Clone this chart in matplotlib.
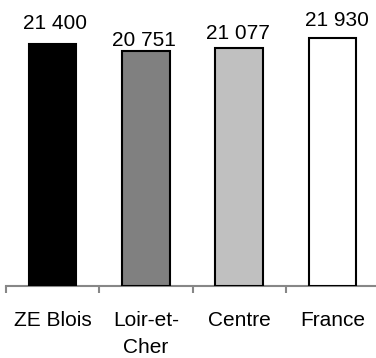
import matplotlib
matplotlib.use("Agg")
import matplotlib.pyplot as plt
from matplotlib.ticker import FixedLocator

plt.rcParams['font.family'] = ['Liberation Sans', 'DejaVu Sans']

regions = ["ZE Blois", "Loir-et-\nCher", "Centre", "France"]
values = [21400, 20751, 21077, 21930]
value_labels = ["21 400", "20 751", "21 077", "21 930"]
fills = ["#000000", "#808080", "#c0c0c0", "#ffffff"]

# label nudges (points): x, y above bar top
label_dx = [1.5, -1.5, -1, 3.5]
label_dy = [10.7, 3.9, 6.5, 8.4]

fig = plt.figure(figsize=(3.76, 3.58), dpi=100)
ax = fig.add_axes([6 / 376, 72 / 358, 373 / 376, 286 / 358])

x = list(range(len(regions)))
ax.bar(x, values, width=0.51, color=fills, edgecolor="black", linewidth=1.5, zorder=3)

for xi, v, txt, dx, dy in zip(x, values, value_labels, label_dx, label_dy):
    ax.annotate(txt, (xi, v), xytext=(dx, dy), textcoords="offset points",
                ha="center", va="baseline", fontsize=15, color="black")

ax.set_xlim(-0.5, 3.5)
ax.set_ylim(0, 25300)

for side in ["left", "right", "top"]:
    ax.spines[side].set_visible(False)
ax.spines["bottom"].set_color("#878787")
ax.spines["bottom"].set_linewidth(1.5)
ax.set_yticks([])

ax.set_xticks(x)
ax.set_xticklabels(regions, fontsize=15, linespacing=1.55)
ax.tick_params(axis="x", which="major", length=0, pad=18)
ax.xaxis.set_minor_locator(FixedLocator([-0.5, 0.5, 1.5, 2.5, 3.5]))
ax.tick_params(axis="x", which="minor", length=5, width=1.5, color="#878787", direction="out")

fig.savefig("out.png", dpi=100)
